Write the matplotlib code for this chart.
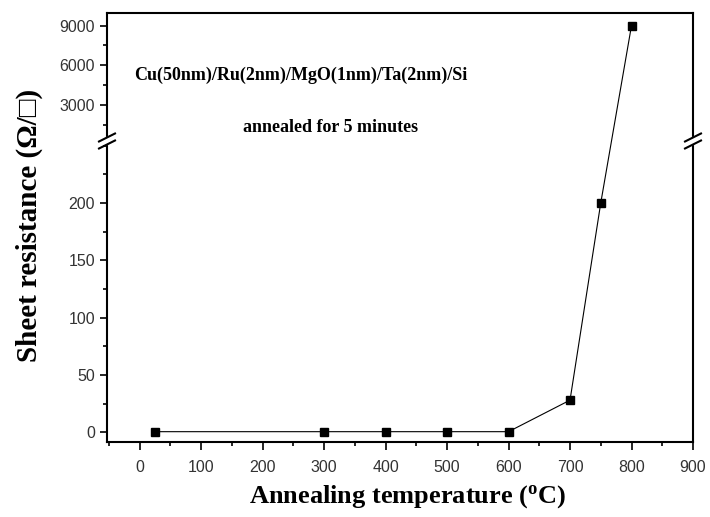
import numpy as np
import matplotlib.pyplot as plt
from matplotlib.lines import Line2D
from matplotlib.ticker import MultipleLocator

# data
temps = [25, 300, 400, 500, 600, 700, 750, 800]
sheet_res = [0.5, 0.5, 0.5, 0.5, 0.5, 28, 200, 9000]
x_ticks = [0, 100, 200, 300, 400, 500, 600, 700, 800, 900]
lo_ticks = [0, 50, 100, 150, 200]
hi_ticks = [3000, 6000, 9000]

plt.rcParams['font.family'] = 'Liberation Sans'
W, H = 710, 517
fig = plt.figure(figsize=(W / 100, H / 100), dpi=100)

left, right = 107 / W, 693 / W
y_top, y_brk, y_bot = 1 - 12.7 / H, 1 - 141 / H, 1 - 442 / H
ax_hi = fig.add_axes([left, y_brk, right - left, y_top - y_brk])
ax_lo = fig.add_axes([left, y_bot, right - left, y_brk - y_bot], sharex=ax_hi)

ax_lo.set_xlim(-53, 900)
ax_lo.set_ylim(-8.5, 254)
ax_hi.set_ylim(250, 9975)

split = 6  # index where the upper axis takes over
mk = dict(color='black', marker='s', markersize=6, lw=0.8)
ax_lo.plot(temps[:split + 1], sheet_res[:split + 1], **mk)
ax_hi.plot(temps[split + 1:], sheet_res[split + 1:], **mk)

# segment that crosses the break, drawn in figure pixels
fig.canvas.draw()
p0 = ax_lo.transData.transform((temps[split], sheet_res[split]))
p1 = ax_hi.transData.transform((temps[split + 1], sheet_res[split + 1]))
fig.add_artist(Line2D([p0[0], p1[0]], [p0[1], p1[1]], transform=None,
                      color='black', lw=0.8, zorder=1))

for ax in (ax_lo, ax_hi):
    for s in ('left', 'right', 'top', 'bottom'):
        ax.spines[s].set_linewidth(1.5)
    ax.tick_params(which='both', direction='out', width=1.2, labelsize=11.5,
                   right=False, top=False, color='black', labelcolor='#333333')
    ax.tick_params(which='major', length=5)
    ax.tick_params(which='minor', length=3)

ax_hi.spines['bottom'].set_visible(False)
ax_lo.spines['top'].set_visible(False)
ax_hi.tick_params(axis='x', which='both', bottom=False, labelbottom=False)

ax_lo.set_xticks(x_ticks)
ax_lo.xaxis.set_minor_locator(MultipleLocator(50))
ax_lo.tick_params(axis='x', which='major', length=6, pad=7)
ax_lo.set_yticks(lo_ticks)
ax_lo.yaxis.set_minor_locator(MultipleLocator(25))
ax_hi.set_yticks(hi_ticks)
ax_hi.yaxis.set_minor_locator(MultipleLocator(1500))

# break marks on both side spines
yb = 1 - 141 / H
for xf in (left, right):
    for dy in (-3.5, 3.5):
        cx, cy = xf * W, yb * H + dy
        fig.add_artist(Line2D([cx - 8, cx + 8], [cy - 4, cy + 4], transform=None,
                              color='black', lw=1.5, zorder=5))
    fig.add_artist(Line2D([xf * W, xf * W], [yb * H - 2, yb * H + 2], transform=None,
                          color='white', lw=3, zorder=4))

serif = 'Liberation Serif'
fig.text(301 / W, 1 - 75 / H, 'Cu(50nm)/Ru(2nm)/MgO(1nm)/Ta(2nm)/Si',
         family=serif, weight='bold', fontsize=13, ha='center', va='center')
fig.text(331 / W, 1 - 127 / H, 'annealed for 5 minutes',
         family=serif, weight='bold', fontsize=13, ha='center', va='center')

fig.text(408 / W, 1 - 497 / H, 'Annealing temperature ($\\mathregular{^o}$C)',
         family=serif, weight='bold', fontsize=19, ha='center', va='center')
fig.text(29 / W, 1 - 225 / H, 'Sheet resistance (\u03a9/\u25a1)',
         family=[serif, 'DejaVu Sans'], weight='bold', fontsize=21,
         rotation=90, ha='center', va='center')

fig.savefig('out.png', dpi=100)
